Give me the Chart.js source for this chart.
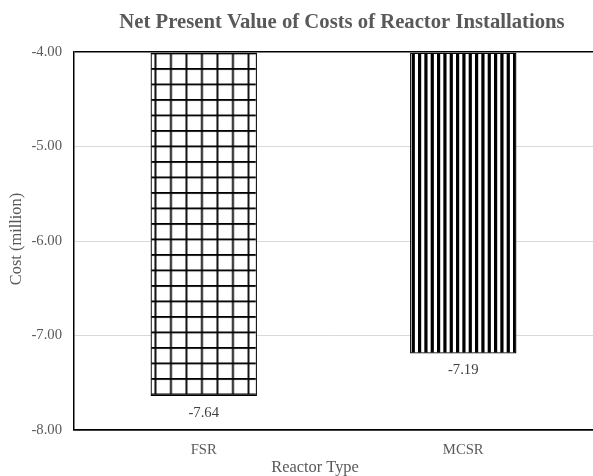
<!DOCTYPE html>
<html>
<head>
<meta charset="utf-8">
<script src="https://cdn.jsdelivr.net/npm/chart.js@4/dist/chart.umd.min.js"></script>
<style>
  html, body { margin: 0; padding: 0; background: #fff; }
  #wrap { width: 593px; height: 476px; }
</style>
</head>
<body>
<div id="wrap"><canvas id="npv-chart" width="593" height="476"></canvas></div>
<script>
const reactorTypes = ['FSR', 'MCSR'];
const npvCosts = [-7.64, -7.19];
const axisBase = -4;
const yMin = -8;
const yMax = -4;

const chartTitle = 'Net Present Value of Costs of Reactor Installations';
const xTitle = 'Reactor Type';
const yTitle = 'Cost (million)';

const FONT = "'Liberation Serif', 'Times New Roman', serif";

// crosshatch tile for FSR
function gridPattern() {
  const c = document.createElement('canvas');
  c.width = 31;
  c.height = 31;
  const g = c.getContext('2d');
  g.fillStyle = '#fff';
  g.fillRect(0, 0, 31, 31);
  g.fillStyle = '#000';
  g.fillRect(0, 0, 1.8, 31);
  g.fillRect(15.5, 0, 1.8, 31);
  g.fillRect(0, 0, 31, 1.8);
  g.fillRect(0, 15.5, 31, 1.8);
  const p = g.createPattern(c, 'repeat');
  p.setTransform(new DOMMatrix().translate(-0.5, 6));
  return p;
}

// vertical stripes for MCSR
function stripePattern() {
  const c = document.createElement('canvas');
  c.width = 19;
  c.height = 6;
  const g = c.getContext('2d');
  g.fillStyle = '#fff';
  g.fillRect(0, 0, 19, 6);
  g.fillStyle = '#000';
  g.fillRect(0, 0, 3.2, 6);
  g.fillRect(6.33, 0, 3.2, 6);
  g.fillRect(12.67, 0, 3.2, 6);
  return g.createPattern(c, 'repeat');
}

const ctx = document.getElementById('npv-chart').getContext('2d');

// value labels under bars + chart/axis titles
const extraText = {
  id: 'extraText',
  afterDatasetsDraw(chart) {
    const c = chart.ctx;
    const meta = chart.getDatasetMeta(0);
    c.save();
    c.font = '14.7px ' + FONT;
    c.fillStyle = '#404040';
    c.textAlign = 'center';
    c.textBaseline = 'middle';
    meta.data.forEach((bar, i) => {
      c.fillText(npvCosts[i].toFixed(2), bar.x, bar.y + 17);
    });
    c.restore();
  },
  afterDraw(chart) {
    const c = chart.ctx;
    const area = chart.chartArea;
    c.save();
    c.fillStyle = '#595959';
    c.textAlign = 'center';
    c.textBaseline = 'alphabetic';
    c.font = 'bold 20.7px ' + FONT;
    c.fillText(chartTitle, 342, 28);
    c.font = '16.4px ' + FONT;
    c.textBaseline = 'middle';
    c.fillText(xTitle, 315, 468);
    c.translate(17, (area.top + area.bottom) / 2 - 2);
    c.rotate(-Math.PI / 2);
    c.fillText(yTitle, 0, 0);
    c.restore();
  }
};

const npvChart = new Chart(ctx, {
  type: 'bar',
  data: {
    labels: reactorTypes,
    datasets: [{
      data: npvCosts,
      base: axisBase,
      backgroundColor: [gridPattern(), stripePattern()],
      borderColor: '#000',
      borderWidth: 1.3,
      borderSkipped: false,
      categoryPercentage: 1,
      barPercentage: 0.41,
    }],
  },
  options: {
    responsive: false,
    animation: false,
    layout: { padding: { top: 52 } },
    plugins: {
      legend: { display: false },
      tooltip: { enabled: false },
    },
    scales: {
      x: {
        grid: { display: false, drawTicks: false },
        border: { color: '#000', width: 1.5 },
        ticks: {
          color: '#595959',
          font: { family: FONT, size: 14.7 },
          padding: 11,
        },
        afterFit: (s) => { s.height = 46; },
      },
      y: {
        min: yMin,
        max: yMax,
        ticks: {
          stepSize: 1,
          color: '#595959',
          font: { family: FONT, size: 14.7 },
          padding: 12,
          callback: (v) => Number(v).toFixed(2),
        },
        grid: {
          drawTicks: false,
          color: (c) => (c.tick && (c.tick.value === yMax || c.tick.value === yMin)) ? '#000' : '#d9d9d9',
          lineWidth: (c) => (c.tick && (c.tick.value === yMax || c.tick.value === yMin)) ? 1.5 : 1,
        },
        border: { color: '#000', width: 1.5 },
        afterFit: (s) => { s.width = 74; },
      },
    },
  },
  plugins: [extraText],
});
</script>
</body>
</html>
